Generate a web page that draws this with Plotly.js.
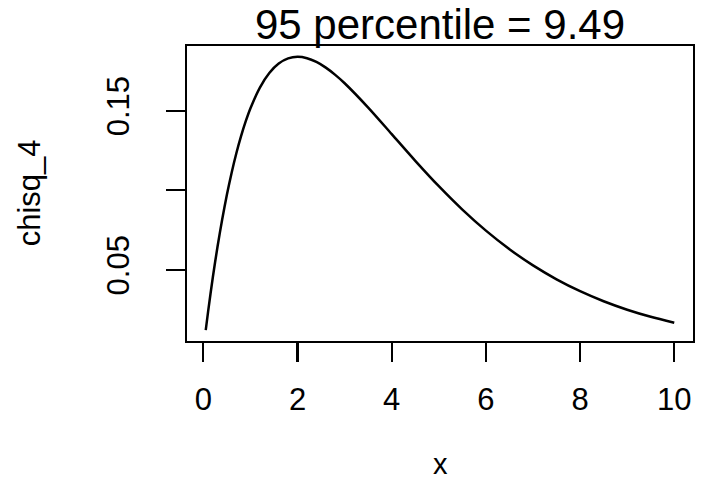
<!DOCTYPE html>
<html>
<head>
<meta charset="utf-8">
<script src="https://cdn.plot.ly/plotly-3.0.1.min.js"></script>
<style>html,body{margin:0;padding:0;background:#fff;}#chart{width:701px;height:482px;}</style>
</head>
<body>
<div id="chart"></div>
<script>
// chi-square (df = 4) density values
const xValues = [0.05, 0.1, 0.2, 0.3, 0.4, 0.5, 0.6, 0.7, 0.8, 0.9, 1.0, 1.2, 1.4, 1.6, 1.8, 2.0, 2.2, 2.4, 2.6, 2.8, 3.0, 3.5, 4.0, 4.5, 5.0, 5.5, 6.0, 6.5, 7.0, 7.5, 8.0, 8.5, 9.0, 9.5, 10.0];
const densityValues = [0.01219, 0.02378, 0.04524, 0.06455, 0.08187, 0.09735, 0.11112, 0.12332, 0.13406, 0.14347, 0.15163, 0.16464, 0.17381, 0.17973, 0.18296, 0.18394, 0.18308, 0.18071, 0.17715, 0.17262, 0.16735, 0.15205, 0.13534, 0.11858, 0.10261, 0.08790, 0.07468, 0.06301, 0.05284, 0.04410, 0.03663, 0.03031, 0.02500, 0.02055, 0.01684];
const xTicks = [0, 2, 4, 6, 8, 10];
const yTicks = [0.05, 0.10, 0.15];
const yTickLabels = ["0.05", "", "0.15"];
const titleText = "95 percentile = 9.49";
const xLabel = "x";
const yLabel = "chisq_4";

const font = "Liberation Sans, Arial, Helvetica, sans-serif";

const trace = {
  x: xValues, y: densityValues, type: "scatter", mode: "lines",
  line: {color: "#000", width: 2.5, shape: "spline", smoothing: 0.8},
  hoverinfo: "skip"
};

const axisCommon = {
  showgrid: false, zeroline: false, showline: true, mirror: true,
  linecolor: "#000", linewidth: 2.2, ticks: "outside", ticklen: 19,
  tickwidth: 2.2, tickcolor: "#000", fixedrange: true,
  tickfont: {family: font, size: 31, color: "#000"}
};

const layout = {
  width: 701, height: 482,
  margin: {l: 187, r: 8, t: 46, b: 141, pad: 0},
  paper_bgcolor: "#fff", plot_bgcolor: "#fff",
  showlegend: false,
  title: {text: titleText, font: {family: font, size: 42, color: "#000"},
          xref: "paper", x: 0.5, xanchor: "center", yref: "container", y: 1 - 24/482, yanchor: "middle"},
  xaxis: Object.assign({}, axisCommon, {
    range: [-0.348, 10.398], tickmode: "array", tickvals: xTicks,
    ticktext: xTicks.map(String), ticklabelstandoff: 11
  }),
  yaxis: Object.assign({}, axisCommon, {
    range: [0.00532, 0.19075], tickmode: "array", tickvals: yTicks,
    ticktext: yTickLabels, tickangle: -90, ticklabelstandoff: 24
  }),
  annotations: [
    {text: xLabel, xref: "paper", yref: "paper", x: 0.5, y: -0.418,
     xanchor: "center", yanchor: "middle", showarrow: false,
     font: {family: font, size: 29, color: "#000"}},
    {text: yLabel, xref: "paper", yref: "paper", x: -0.312, y: 0.501,
     xanchor: "center", yanchor: "middle", showarrow: false, textangle: -90,
     font: {family: font, size: 31, color: "#000"}}
  ]
};

Plotly.newPlot("chart", [trace], layout, {displayModeBar: false, staticPlot: true});
</script>
</body>
</html>
